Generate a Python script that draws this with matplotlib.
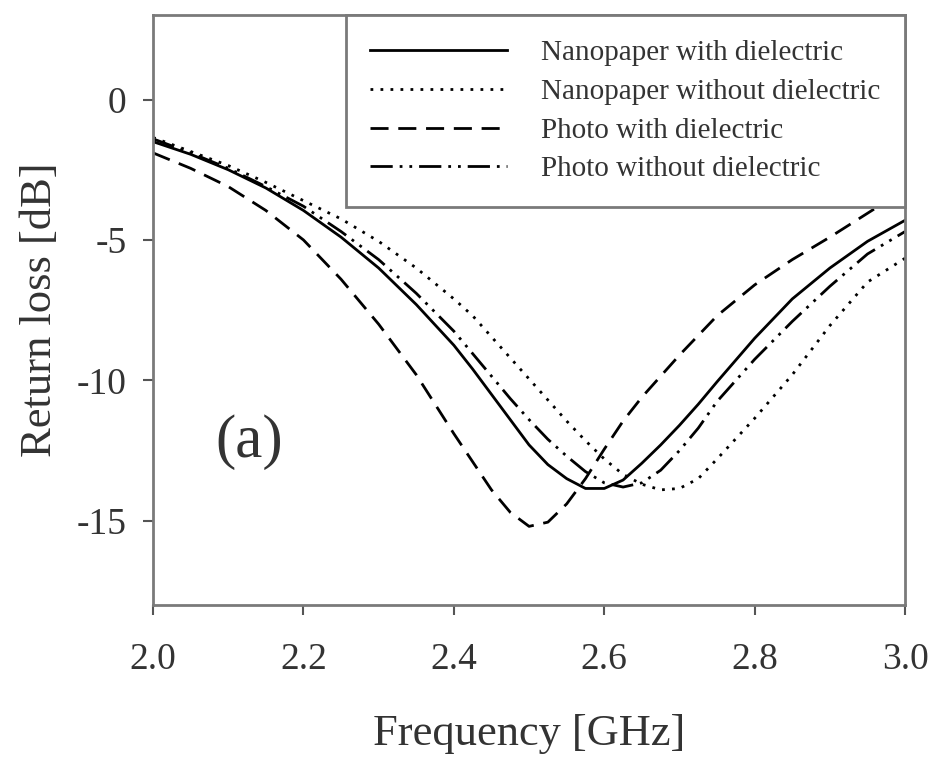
import numpy as np
import matplotlib
matplotlib.use('Agg')
import matplotlib.pyplot as plt

plt.rcParams['font.family'] = ['Liberation Serif', 'DejaVu Serif']

# frequency points [GHz]
freq = [2.00, 2.05, 2.10, 2.15, 2.20, 2.25, 2.30, 2.35, 2.40, 2.425, 2.45, 2.475,
        2.50, 2.525, 2.55, 2.575, 2.60, 2.625, 2.65, 2.675, 2.70, 2.725, 2.75,
        2.80, 2.85, 2.90, 2.95, 3.00]

# return loss [dB]
nano_diel = [-1.5, -1.95, -2.5, -3.15, -3.95, -4.9, -6.0, -7.3, -8.75, -9.6, -10.5, -11.4,
             -12.3, -13.0, -13.5, -13.85, -13.85, -13.55, -12.95, -12.3, -11.6, -10.85, -10.05,
             -8.5, -7.1, -6.0, -5.05, -4.3]
nano_nodiel = [-1.35, -1.85, -2.35, -2.95, -3.6, -4.25, -5.05, -6.0, -7.1, -7.7, -8.45, -9.2,
               -9.95, -10.7, -11.45, -12.15, -12.8, -13.35, -13.7, -13.9, -13.85, -13.5, -12.8,
               -11.35, -9.8, -8.05, -6.5, -5.65]
photo_diel = [-1.9, -2.45, -3.1, -3.95, -5.0, -6.4, -8.0, -9.8, -11.9, -12.9, -13.9, -14.7,
              -15.2, -15.05, -14.4, -13.5, -12.45, -11.45, -10.6, -9.85, -9.1, -8.4, -7.7,
              -6.6, -5.7, -4.9, -4.05, -3.2]
photo_nodiel = [-1.4, -1.9, -2.45, -3.1, -3.8, -4.7, -5.7, -6.9, -8.25, -9.05, -9.85, -10.65,
                -11.4, -12.1, -12.7, -13.25, -13.65, -13.8, -13.65, -13.2, -12.5, -11.7, -10.75,
                -9.25, -7.9, -6.65, -5.5, -4.7]

labels = ['Nanopaper with dielectric', 'Nanopaper without dielectric',
          'Photo with dielectric', 'Photo without dielectric']

fig = plt.figure(figsize=(9.36, 7.57), dpi=100)
ax = fig.add_axes([0.1635, 0.2008, 0.8035, 0.779])

ax.plot(freq, nano_diel, color='black', lw=2.0, ls='-', label=labels[0])
ax.plot(freq, nano_nodiel, color='black', lw=2.0, ls=(0, (1, 2.6)), label=labels[1])
ax.plot(freq, photo_diel, color='black', lw=2.0, ls=(0, (6.5, 3.5)), label=labels[2])
ax.plot(freq, photo_nodiel, color='black', lw=2.0, ls=(0, (8, 2.5, 1, 2.5, 1, 2.5)), label=labels[3])

ax.set_xlim(2.0, 3.0)
ax.set_ylim(-18, 3)
ax.set_xticks([2.0, 2.2, 2.4, 2.6, 2.8, 3.0])
ax.set_xticklabels(['2.0', '2.2', '2.4', '2.6', '2.8', '3.0'])
ax.set_yticks([0, -5, -10, -15])
ax.set_yticklabels(['0', '-5', '-10', '-15'])
ax.tick_params(axis='both', labelsize=27, colors='#555555', length=7, width=1.5,
               labelcolor='#333333', direction='out')
ax.tick_params(axis='x', pad=20)
ax.tick_params(axis='y', pad=12)

for s in ax.spines.values():
    s.set_color('#7a7a7a')
    s.set_linewidth(2)

ax.set_xlabel('Frequency [GHz]', fontsize=32, color='#333333', labelpad=27)
ax.set_ylabel('Return loss [dB]', fontsize=32, color='#333333', labelpad=12)

ax.text(0.128, 0.276, '(a)', transform=ax.transAxes, fontsize=44, color='#333333',
        ha='center', va='center')

leg = ax.legend(loc='upper right', borderaxespad=0, fancybox=False, fontsize=21,
                handlelength=4.7, handletextpad=1.15, labelspacing=0.42,
                borderpad=0.85, framealpha=1)
leg.get_frame().set_edgecolor('#7a7a7a')
leg.get_frame().set_linewidth(2)
for t in leg.get_texts():
    t.set_color('#333333')

fig.savefig('out.png', dpi=100)
